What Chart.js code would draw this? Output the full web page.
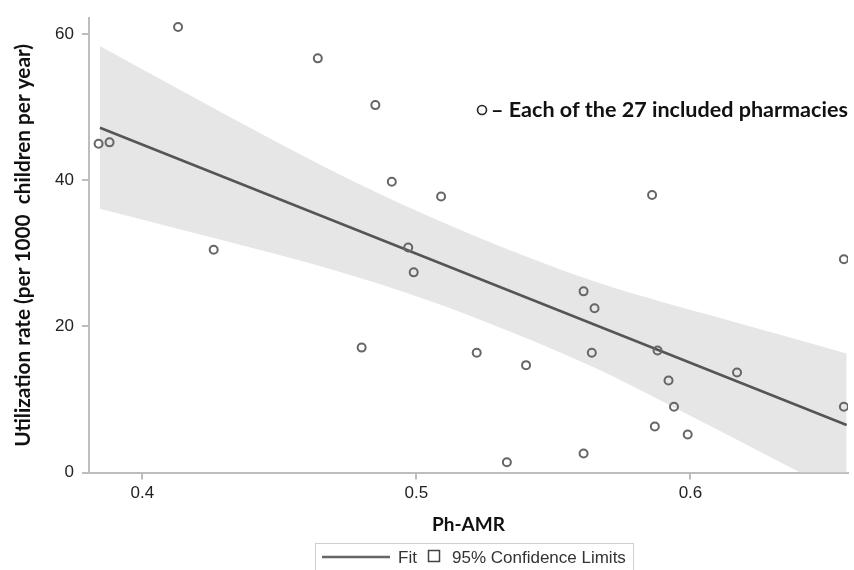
<!DOCTYPE html>
<html>
<head>
<meta charset="utf-8">
<script src="https://cdn.jsdelivr.net/npm/chart.js@4.4.0/dist/chart.umd.min.js"></script>
<style>
  html, body { margin: 0; padding: 0; background: #fff; }
  canvas { display: block; }
</style>
</head>
<body>
<canvas id="myChart" width="854" height="570"></canvas>
<script>
// Farmacie: Ph-AMR (x) e tasso di utilizzo (y)
var phAmr = [0.384, 0.388, 0.413, 0.426, 0.464, 0.485, 0.491, 0.509, 0.497, 0.499,
             0.561, 0.565, 0.480, 0.586, 0.656, 0.588, 0.592, 0.594, 0.587, 0.599,
             0.617, 0.656, 0.533, 0.561, 0.564, 0.522, 0.540];
var utilRate = [45.0, 45.2, 61.0, 30.5, 56.7, 50.3, 39.8, 37.8, 30.8, 27.4,
                24.8, 22.5, 17.1, 38.0, 29.2, 16.7, 12.6, 9.0, 6.3, 5.2,
                13.7, 9.0, 1.4, 2.6, 16.4, 16.4, 14.7];

// Retta di regressione
var fitX = [0.3845, 0.657];
var fitY = [47.2, 6.5];

// Limiti di confidenza 95%
var bandX = [0.3845, 0.42, 0.4568, 0.4857, 0.52, 0.5653, 0.59, 0.617, 0.657];
var bandUpper = [58.4, 51.1, 43.7, 38.3, 32.6, 26.1, 23.3, 20.5, 16.3];
var bandLower = [36.1, 32.7, 29.1, 25.9, 21.4, 14.3, 9.7, 4.5, -3.3];

// Etichette assi
var xTicks = [0.4, 0.5, 0.6];
var yTicks = [0, 20, 40, 60];

function toXY(xs, ys) {
  var out = [];
  for (var i = 0; i < xs.length; i++) out.push({x: xs[i], y: ys[i]});
  return out;
}

// dimensione font per una certa larghezza
function fitSize(text, weight, family, target) {
  var c = document.createElement('canvas').getContext('2d');
  c.font = weight + ' 20px ' + family;
  return 20 * target / c.measureText(text).width;
}

var yTitle = 'Utilization rate (per 1000  children per year)';
var xTitle = 'Ph-AMR';
var noteText = '\u2013 Each of the 27 included pharmacies';
var yTitleSize = fitSize(yTitle, 'bold', 'Lato', 403);
var xTitleSize = fitSize(xTitle, 'bold', 'Lato', 73);
var noteSize = fitSize(noteText, 'bold', 'Lato', 357);

var axisGrey = '#bdbdbd';

// legenda e nota disegnate a mano
var extras = {
  id: 'extras',
  afterDraw: function(chart) {
    var ctx = chart.ctx;
    ctx.save();
    // nota
    ctx.beginPath();
    ctx.arc(482, 110, 4.5, 0, Math.PI * 2);
    ctx.strokeStyle = '#222';
    ctx.lineWidth = 1.6;
    ctx.stroke();
    ctx.fillStyle = '#111';
    ctx.font = 'bold ' + noteSize + 'px Lato';
    ctx.textBaseline = 'alphabetic';
    ctx.fillText(noteText, 491, 117);

    // legenda
    ctx.strokeStyle = '#cfcfcf';
    ctx.lineWidth = 1;
    ctx.strokeRect(315.5, 543.5, 318, 27);
    ctx.beginPath();
    ctx.moveTo(322, 557);
    ctx.lineTo(390, 557);
    ctx.strokeStyle = '#666';
    ctx.lineWidth = 2.5;
    ctx.stroke();
    ctx.strokeStyle = '#444';
    ctx.lineWidth = 1.5;
    ctx.strokeRect(428.5, 550.5, 11, 11);
    ctx.fillStyle = '#333';
    ctx.font = '17px "Liberation Sans"';
    ctx.fillText('Fit', 398, 563);
    ctx.fillText('95% Confidence Limits', 452, 563);
    ctx.restore();
  }
};

new Chart('myChart', {
  data: {
    datasets: [{
      type: 'scatter',
      data: toXY(phAmr, utilRate),
      pointRadius: 4,
      pointBorderWidth: 2,
      pointBorderColor: '#666',
      pointBackgroundColor: 'rgba(255,255,255,0)',
      order: 0
    }, {
      type: 'line',
      data: toXY(fitX, fitY),
      borderColor: '#555',
      borderWidth: 2.5,
      pointRadius: 0,
      fill: false,
      order: 1
    }, {
      type: 'line',
      data: toXY(bandX, bandUpper),
      borderColor: 'rgba(0,0,0,0)',
      borderWidth: 0,
      pointRadius: 0,
      cubicInterpolationMode: 'monotone',
      backgroundColor: '#e6e6e6',
      fill: '+1',
      order: 2
    }, {
      type: 'line',
      data: toXY(bandX, bandLower),
      borderColor: 'rgba(0,0,0,0)',
      borderWidth: 0,
      pointRadius: 0,
      cubicInterpolationMode: 'monotone',
      fill: false,
      order: 3
    }]
  },
  options: {
    responsive: false,
    animation: false,
    layout: {padding: {left: 0, right: 0, top: 15, bottom: 0}},
    plugins: {
      legend: {display: false},
      tooltip: {enabled: false}
    },
    scales: {
      x: {
        type: 'linear',
        min: 0.3805,
        max: 0.6575,
        afterBuildTicks: function(s) { s.ticks = xTicks.map(function(v) { return {value: v}; }); },
        afterFit: function(s) { s.height = 97.5; },
        grid: {drawOnChartArea: false, tickLength: 7, color: axisGrey, lineWidth: 2},
        border: {color: axisGrey, width: 2},
        ticks: {
          font: {family: 'Liberation Sans', size: 17},
          color: '#222',
          padding: 4,
          maxRotation: 0,
          callback: function(v) { return v.toFixed(1); }
        },
        title: {
          display: true,
          text: xTitle,
          color: '#111',
          font: {family: 'Lato', weight: 'bold', size: xTitleSize},
          padding: {top: 0, bottom: 34}
        }
      },
      y: {
        type: 'linear',
        min: 0,
        max: 62.2,
        afterBuildTicks: function(s) { s.ticks = yTicks.map(function(v) { return {value: v}; }); },
        afterFit: function(s) { s.width = 89; },
        grid: {drawOnChartArea: false, tickLength: 7, color: axisGrey, lineWidth: 2},
        border: {color: axisGrey, width: 2},
        ticks: {
          font: {family: 'Liberation Sans', size: 17},
          color: '#222',
          padding: 8
        },
        title: {
          display: true,
          text: yTitle,
          color: '#111',
          font: {family: 'Lato', weight: 'bold', size: yTitleSize},
          padding: {top: 11, bottom: 0}
        }
      }
    }
  },
  plugins: [extras]
});
</script>
</body>
</html>
